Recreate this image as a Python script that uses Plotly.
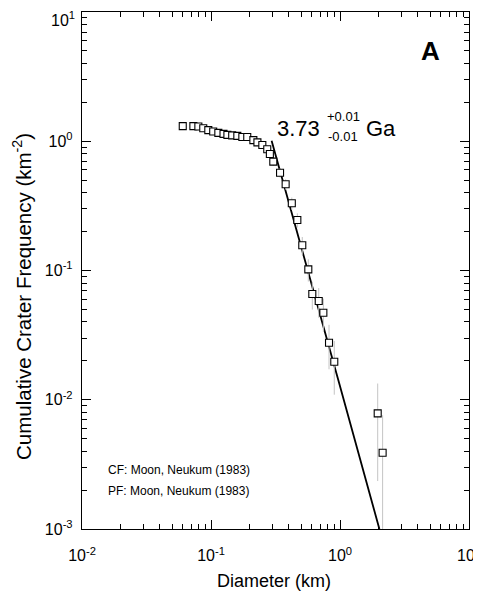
import plotly.graph_objects as go

# ---- data ----
diameter_km = [0.0604, 0.0730, 0.0798, 0.0871, 0.0953, 0.104, 0.114, 0.125, 0.134, 0.146,
               0.160, 0.175, 0.191, 0.213, 0.229, 0.250, 0.273, 0.286, 0.304, 0.343,
               0.379, 0.423, 0.467, 0.510, 0.568, 0.610, 0.684, 0.743, 0.822, 0.903,
               1.96, 2.14]
cum_freq = [1.31, 1.31, 1.30, 1.26, 1.22, 1.19, 1.16, 1.14, 1.12, 1.11,
            1.10, 1.08, 1.08, 1.02, 0.98, 0.935, 0.867, 0.797, 0.695, 0.571,
            0.465, 0.331, 0.246, 0.157, 0.102, 0.0658, 0.0581, 0.0471, 0.0276, 0.0197,
            0.00785, 0.00389]
freq_err = [0.0714, 0.0714, 0.0711, 0.0700, 0.0689, 0.0680, 0.0672, 0.0666, 0.0660, 0.0657,
            0.0654, 0.0648, 0.0648, 0.0630, 0.0618, 0.0603, 0.0581, 0.0557, 0.0520, 0.0471,
            0.0425, 0.0359, 0.0309, 0.0247, 0.0199, 0.0160, 0.0150, 0.0135, 0.0104, 0.00876,
            0.0055, 0.0037]
fit_diameter_km = [0.295, 0.461, 0.970, 2.02]
fit_freq = [1.01, 0.206, 0.0142, 0.001]

x_tick_vals = [0.01, 0.1, 1, 10]
x_tick_text = ["10<sup>-2</sup>", "10<sup>-1</sup>", "10<sup>0</sup>", "10<sup>1</sup>"]
y_tick_vals = [0.001, 0.01, 0.1, 1, 10]
y_tick_text = ["10<sup>-3</sup>", "10<sup>-2</sup>", "10<sup>-1</sup>", "10<sup>0</sup>", "10<sup>1</sup>"]

age_text = "3.73"
age_plus = "+0.01"
age_minus = "-0.01"
age_unit = "Ga"
panel_label = "A"
cf_text = "CF: Moon, Neukum (1983)"
pf_text = "PF: Moon, Neukum (1983)"
x_title = "Diameter (km)"
y_title = "Cumulative Crater Frequency (km<sup>-2</sup>)"

# ---- layout geometry (window pixels; the page body adds an 8px offset) ----
OFF = 8
WIN_W, WIN_H = 481, 594
PLOT_L, PLOT_R, PLOT_T, PLOT_B = 82, 469, 12, 529
W, H = WIN_W - OFF, WIN_H - OFF
L = PLOT_L - OFF
T = PLOT_T - OFF
R = WIN_W - PLOT_R
B = WIN_H - PLOT_B
PW, PH = PLOT_R - PLOT_L, PLOT_B - PLOT_T
FONT = "Liberation Sans, Arial, Helvetica, sans-serif"


def px(x):
    return (x - PLOT_L) / PW


def py(y):
    return (PLOT_B - y) / PH


def minor_vals(e0, e1):
    return [k * 10.0 ** e for e in range(e0, e1) for k in range(2, 10)]


fig = go.Figure()
fig.add_trace(go.Scatter(
    x=fit_diameter_km, y=fit_freq, mode="lines",
    line=dict(color="black", width=1.8), showlegend=False, hoverinfo="skip"))
fig.add_trace(go.Scatter(
    x=diameter_km, y=cum_freq, mode="markers",
    marker=dict(symbol="square", size=7, color="white",
                line=dict(color="black", width=1.1)),
    error_y=dict(type="data", array=freq_err, color="#c4c4c4", thickness=1, width=0),
    showlegend=False))

axis_common = dict(
    type="log", showline=True, linecolor="black", linewidth=1.4, mirror="allticks",
    ticks="inside", ticklen=9, tickwidth=1.2, tickcolor="black",
    showgrid=False, zeroline=False, automargin=False, ticklabeloverflow="allow",
    tickfont=dict(family=FONT, size=16, color="black"),
)

# the top y label would be clipped at the page edge, so it is drawn as an annotation
y_axis_text = y_tick_text[:-1] + [""]

fig.update_xaxes(**axis_common, range=[-2, 1], tickvals=x_tick_vals, ticktext=x_tick_text,
                 ticklabelstandoff=12,
                 minor=dict(tickvals=minor_vals(-2, 1), ticks="inside", ticklen=5,
                            tickwidth=1, tickcolor="black", showgrid=False))
fig.update_yaxes(**axis_common, range=[-3, 1], tickvals=y_tick_vals, ticktext=y_axis_text,
                 ticklabelstandoff=5,
                 minor=dict(tickvals=minor_vals(-3, 1), ticks="inside", ticklen=5,
                            tickwidth=1, tickcolor="black", showgrid=False))

ann = []


def add(text, x, y, size, xanchor="left", angle=0, yanchor="middle", pad=1):
    ann.append(dict(text=text, x=px(x), y=py(y), xref="paper", yref="paper",
                    xanchor=xanchor, yanchor=yanchor, showarrow=False, textangle=angle,
                    borderpad=pad,
                    font=dict(family=FONT, size=size, color="black")))


add(y_tick_text[-1], 76, 8, 16, xanchor="right", yanchor="top", pad=0)
add("<b>" + panel_label + "</b>", 430, 51, 26, xanchor="center")
add(age_text, 275, 128, 22)
add(age_plus, 325, 116, 13)
add(age_minus, 326, 137, 13)
add(age_unit, 364, 128, 22)
add(cf_text, 106, 470, 12)
add(pf_text, 106, 491, 12)
add(x_title, 274, 581, 18, xanchor="center")
add(y_title, 22, 297, 20.5, xanchor="center", angle=-90)

fig.update_layout(
    width=W, height=H, margin=dict(l=L, r=R, t=T, b=B, autoexpand=False),
    paper_bgcolor="white", plot_bgcolor="white",
    font=dict(family=FONT, color="black"),
    annotations=ann,
)

fig.write_html("out.html")
